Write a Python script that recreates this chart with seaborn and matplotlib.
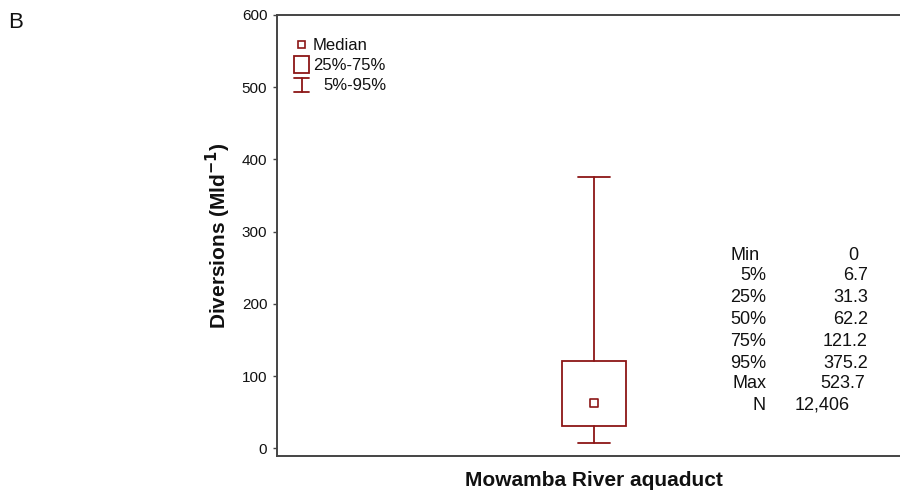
import matplotlib
matplotlib.use("Agg")
import matplotlib.pyplot as plt
from matplotlib.patches import Rectangle
from matplotlib.lines import Line2D
import seaborn as sns
import pandas as pd

# Summary statistics of daily diversions (Ml/d)
site = ["Mowamba River aquaduct"]
stat_names = ["Min", "5%", "25%", "50%", "75%", "95%", "Max", "N"]
stat_text = ["0", "6.7", "31.3", "62.2", "121.2", "375.2", "523.7", "12,406"]
p05 = [6.7]
p25 = [31.3]
p50 = [62.2]
p75 = [121.2]
p95 = [375.2]
y_ticks = [0, 100, 200, 300, 400, 500, 600]

RED = "#8c1616"
AX = "#444444"

sns.set_theme(style="white")
plt.rcParams["font.family"] = ["Liberation Sans", "DejaVu Sans"]

W, H = 900, 491
fig = plt.figure(figsize=(W / 100, H / 100), dpi=100)


def fx(px):
    return px / W


def fy(py):
    return 1 - py / H


left, right, top, bottom = 277, 911, 15, 456
ax = fig.add_axes([fx(left), fy(bottom), fx(right - left), (bottom - top) / H])

stats = [dict(med=m, q1=a, q3=b, whislo=lo, whishi=hi, label=s)
         for s, lo, a, m, b, hi in zip(site, p05, p25, p50, p75, p95)]
ax.bxp(stats, positions=range(len(stats)), widths=0.1, capwidths=0.052,
       showfliers=False, patch_artist=True,
       boxprops=dict(facecolor="white", edgecolor=RED, linewidth=1.3),
       whiskerprops=dict(color=RED, linewidth=1.3),
       capprops=dict(color=RED, linewidth=1.3),
       medianprops=dict(linewidth=0))

med_df = pd.DataFrame({"x": range(len(site)), "median": p50})
sns.scatterplot(data=med_df, x="x", y="median", marker="s", s=38,
                facecolor="white", edgecolor=RED, linewidth=1.2, ax=ax,
                zorder=5, legend=False)

ax.set_xlim(-0.5, 0.5)
ax.set_ylim(-10.7, 600)
ax.set_yticks(y_ticks)
ax.set_xticks([])
ax.tick_params(axis="y", left=True, direction="out", length=3, width=1,
               color=AX, labelsize=11, pad=4, labelcolor="#111111")
for side in ["left", "bottom", "top"]:
    ax.spines[side].set_color(AX)
    ax.spines[side].set_linewidth(1.4)
ax.spines["right"].set_visible(False)

ax.set_ylabel("Diversions (Mld$^{\\mathbf{-1}}$)", fontsize=15, fontweight="bold",
              color="#111111")
ax.yaxis.set_label_coords((233 - left) / (right - left), 0.5)
ax.set_xlabel(site[0], fontsize=15, fontweight="bold", color="#111111")
ax.xaxis.set_label_coords((594 - left) / (right - left), -0.035)

# key in the upper left corner
fig.add_artist(Rectangle((fx(297.5), fy(47.5)), fx(7), 7 / H, facecolor="white",
                         edgecolor=RED, linewidth=1.2, transform=fig.transFigure))
fig.add_artist(Rectangle((fx(294), fy(73)), fx(15), 17 / H, facecolor="white",
                         edgecolor=RED, linewidth=1.3, transform=fig.transFigure))
for xs, ys in [((301.5, 301.5), (78, 92)), ((294, 309), (78, 78)),
               ((294, 309), (92, 92))]:
    fig.add_artist(Line2D([fx(v) for v in xs], [fy(v) for v in ys],
                          color=RED, linewidth=1.3, transform=fig.transFigure))
for txt, xp, yp in [("Median", 313, 45), ("25%-75%", 313, 65), ("5%-95%", 323, 86)]:
    fig.text(fx(xp), fy(yp), txt, fontsize=12, va="center", ha="left",
             color="#111111")

# statistics table
row_y = [255, 276, 298, 320, 341, 363, 384, 405]
for i, (name, val) in enumerate(zip(stat_names, stat_text)):
    if name == "Min":
        fig.text(fx(730), fy(row_y[i]), name, fontsize=13, va="center",
                 ha="left", color="#111111")
    else:
        fig.text(fx(766), fy(row_y[i]), name, fontsize=13, va="center",
                 ha="right", color="#111111")
    if name == "N":
        fig.text(fx(795), fy(row_y[i]), val, fontsize=13, va="center",
                 ha="left", color="#111111")
    else:
        xr = 858 if name == "Min" else (865 if name == "Max" else 868)
        fig.text(fx(xr), fy(row_y[i]), val, fontsize=13, va="center",
                 ha="right", color="#111111")

fig.text(fx(8), fy(22), "B", fontsize=16, va="center", ha="left",
         color="#111111")

fig.savefig("out.png", dpi=100, facecolor="white")
